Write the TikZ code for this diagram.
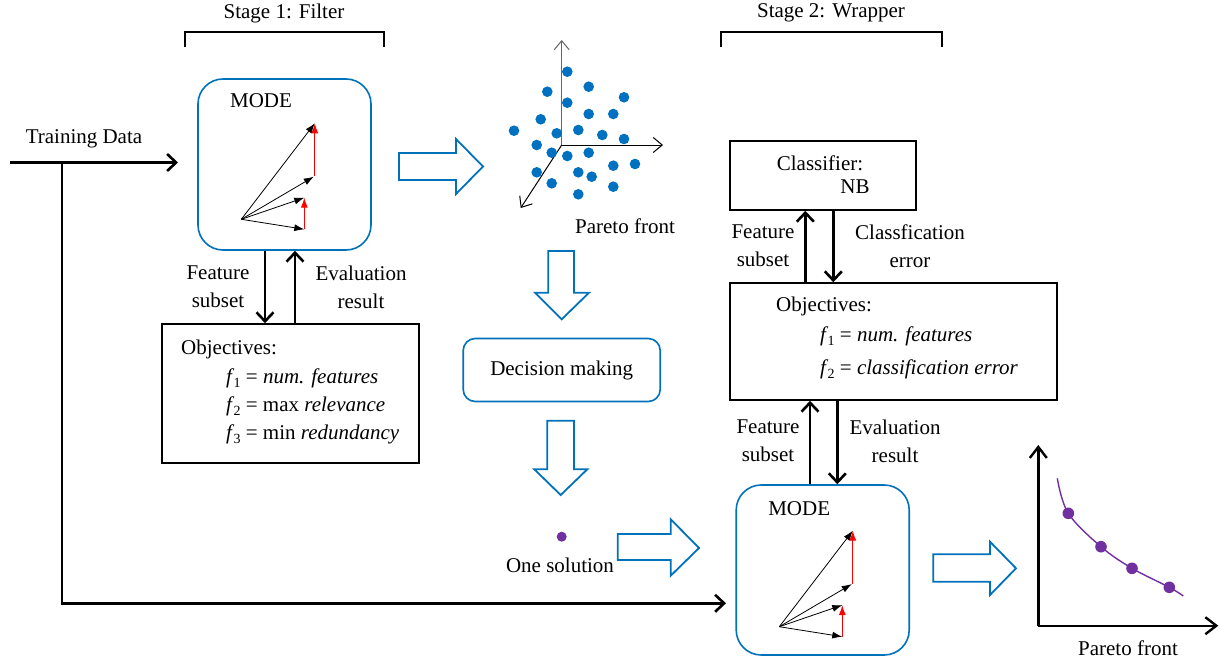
\documentclass[tikz,border=0pt]{standalone}
\usepackage{fontspec}
\setmainfont{Liberation Serif}
\usetikzlibrary{arrows.meta,calc}
\definecolor{mblue}{RGB}{0,114,188}
\definecolor{dblue}{RGB}{0,112,192}
\definecolor{mpurple}{RGB}{112,48,160}
\newcommand\fsub[2]{\textit{#1}\kern-0.8pt\raisebox{-0.45ex}{\fontsize{14}{14}\selectfont #2}}
\newcommand\modevecs[1]{%
  \draw[vecr] ($(#1)+(73.5,-43)$) -- ($(#1)+(73.5,-96)$);
  \draw[vecr] ($(#1)+(63,10)$) -- ($(#1)+(63,-21.6)$);
  \draw[vec] (#1) -- ++(73.5,-96);
  \draw[vec] (#1) -- ++(72.5,-42.6);
  \draw[vec] (#1) -- ++(63,-21.6);
  \draw[vec] (#1) -- ++(63,10);
}
\begin{document}
\begin{tikzpicture}[x=1pt,y=-1pt,font=\fontsize{21}{28}\selectfont,
  txt/.style={inner sep=0pt, align=center},
  bluebox/.style={draw=mblue, line width=1.6pt, rounded corners=25pt, inner sep=0pt},
  blackbox/.style={draw=black, line width=1.6pt, inner sep=0pt},
  flow/.style={line width=2.6pt, -{Straight Barb[length=9pt,width=17pt]}},
  bracket/.style={line width=2.4pt},
  block/.style={draw=mblue, line width=1.8pt, fill=white, line join=miter},
  vec/.style={line width=0.8pt, -{Latex[length=10pt,width=7pt]}},
  vecr/.style={line width=1pt, red, -{Latex[length=10pt,width=7pt]}},
  axis3/.style={line width=1pt, -{Straight Barb[length=9pt,width=15pt]}},
  axis2/.style={line width=2.4pt, -{Straight Barb[length=11pt,width=17pt]}},
  bdot/.style={fill=dblue, draw=none},
  pdot/.style={fill=mpurple, draw=none}]
\path[use as bounding box] (0,0) rectangle (1220,661);

% stage labels and brackets
\node[txt] (s1) at (284,13) {Stage 1: Filter};
\node[txt] (s2) at (831,13) {Stage 2: Wrapper};
\draw[bracket] (185,47.5) -- (185,32) -- (384,32) -- (384,47.5);
\draw[bracket] (721,47.5) -- (721,32) -- (942,32) -- (942,47.5);

% boxes
\node[bluebox, minimum width=173pt, minimum height=171pt] (mode1) at (284.5,164.5) {};
\node[txt] (mode1t) at ($(mode1.center)+(-23.5,-63.5)$) {MODE};
\coordinate (o1) at ($(mode1.center)+(-43.2,54.8)$);
\modevecs{o1}

\node[bluebox, minimum width=173pt, minimum height=170pt] (mode2) at (822.7,570) {};
\node[txt] (mode2t) at ($(mode2.center)+(-23.5,-61.7)$) {MODE};
\coordinate (o2) at ($(mode2.center)+(-43.4,56.7)$);
\modevecs{o2}

\node[blackbox, minimum width=257pt, minimum height=139pt] (obj1) at (290.5,393.5) {};
\node[txt, anchor=west] (obj1a) at (181,349) {Objectives:};
\node[txt, anchor=west] (obj1b) at (226,378) {\fsub{f}{1} = \textit{num. features}};
\node[txt, anchor=west] (obj1c) at (226,406) {\fsub{f}{2} = max \textit{relevance}};
\node[txt, anchor=west] (obj1d) at (226,434) {\fsub{f}{3} = min \textit{redundancy}};

\node[blackbox, minimum width=186pt, minimum height=69pt] (clf) at (823,175.5) {};
\node[txt] (clfa) at (820,163) {Classifier:};
\node[txt] (clfb) at (855,187) {NB};

\node[blackbox, minimum width=327pt, minimum height=117pt] (obj2) at (893.5,341.5) {};
\node[txt, anchor=west] (obj2a) at (776,306) {Objectives:};
\node[txt, anchor=west] (obj2b) at (820,336) {\fsub{f}{1} = \textit{num. features}};
\node[txt, anchor=west] (obj2c) at (820,369) {\fsub{f}{2} = \textit{classification error}};

\node[draw=mblue, line width=1.6pt, rounded corners=12pt, minimum width=197pt, minimum height=63pt, inner sep=0pt] (dm) at (561.7,370) {Decision making};

% training data
\node[txt] (td) at (84,139) {Training Data};
\coordinate (tdstart) at (10,162.5);
\coordinate (tdsplit) at (62,162.5);
\coordinate (tdin1) at (178,162.5);
\coordinate (tdcorner) at (62,603.3);
\coordinate (tdin2) at (726,603.3);
\draw[flow] (tdstart) -- (tdin1);
\draw[flow] (tdsplit) -- (tdcorner) -- (tdin2);

% stage 1 arrows
\draw[flow] ([xshift=-19.5pt]mode1.south) -- ([xshift=-19.5pt]mode1.south |- obj1.north);
\draw[flow] ([xshift=10.5pt]mode1.south |- obj1.north) -- ([xshift=10.5pt]mode1.south);
\node[txt] (fs1) at (218,287) {Feature\\subset};
\node[txt] (er1) at (361,287) {Evaluation\\result};

% classifier arrows
\draw[flow] ([xshift=-17.7pt]clf.south |- obj2.north) -- ([xshift=-17.7pt]clf.south);
\draw[flow] ([xshift=10.3pt]clf.south) -- ([xshift=10.3pt]clf.south |- obj2.north);
\node[txt] (fs2) at (763,246) {Feature\\subset};
\node[txt] (ce) at (910,246) {Classfication\\error};

% objectives2 <-> mode2
\draw[flow] ([xshift=-83.5pt]obj2.south |- mode2.north) -- ([xshift=-83.5pt]obj2.south);
\draw[flow] ([xshift=-56.2pt]obj2.south) -- ([xshift=-56.2pt]obj2.south |- mode2.north);
\node[txt] (fs3) at (768,441) {Feature\\subset};
\node[txt] (er3) at (895,441) {Evaluation\\result};

% block arrows
\draw[block] (399,153) -- (456,153) -- (456,139) -- (483,166.5) -- (456,194) -- (456,180) -- (399,180) -- cycle;
\draw[block] (548.3,251) -- (574,251) -- (574,292.7) -- (589,292.7) -- (561.7,319.3) -- (535,292.7) -- (548.3,292.7) -- cycle;
\draw[block] (547.3,420.7) -- (574,420.7) -- (574,469.3) -- (587.3,469.3) -- (560.7,495) -- (534.3,469.3) -- (547.3,469.3) -- cycle;
\draw[block] (617.7,534) -- (670.7,534) -- (670.7,519.3) -- (699,548) -- (670.7,575.7) -- (670.7,560) -- (617.7,560) -- cycle;
\draw[block] (933.3,554.3) -- (990,554.3) -- (990,541.7) -- (1016,568.3) -- (990,595) -- (990,581.7) -- (933.3,581.7) -- cycle;

% 3D pareto scatter
\coordinate (ax) at (561.7,145);
\draw[axis3, draw=gray!80!black] (ax) -- (561.7,40);
\draw[axis3] (ax) -- (663,145);
\draw[axis3] (ax) -- (520.7,208);
\foreach \x/\y in {567.3/71.7, 588.7/86.7, 547.3/91.7, 624/97.3, 567.3/102.7, 588.7/114, 613.3/114, 540.7/119.3, 514/130.7, 556.7/133.3, 578.3/130, 602.3/135, 624/139, 536.7/145, 551.7/152.7, 567.3/156, 588.7/152.7, 613.3/165.7, 635/164, 536.7/172.3, 578.3/172.3, 591.7/176.7, 551.7/183.3, 613.3/186.7, 578.3/194.3}
  \fill[bdot] (\x,\y) circle (5.3);
\node[txt] (pf1) at (625,226) {Pareto front};

% one solution
\fill[pdot] (561.7,536.7) circle (5);
\node[txt] (os) at (560,565) {One solution};

% 2D pareto front
\coordinate (ax2) at (1038.3,625.7);
\draw[axis2] (ax2) -- (1038.3,445);
\draw[axis2] (ax2) -- (1218.3,625.7);
\draw[mpurple, line width=1.4pt] plot[smooth, tension=0.6] coordinates {(1057.3,478.3) (1068.3,513.3) (1101,546.7) (1132,568.3) (1169.3,587.3) (1183.3,596)};
\foreach \x/\y in {1068.3/513.3, 1101/546.7, 1132/568.3, 1169.3/587.3}
  \fill[pdot] (\x,\y) circle (5.8);
\node[txt] (pf2) at (1128,648) {Pareto front};
\end{tikzpicture}
\end{document}
